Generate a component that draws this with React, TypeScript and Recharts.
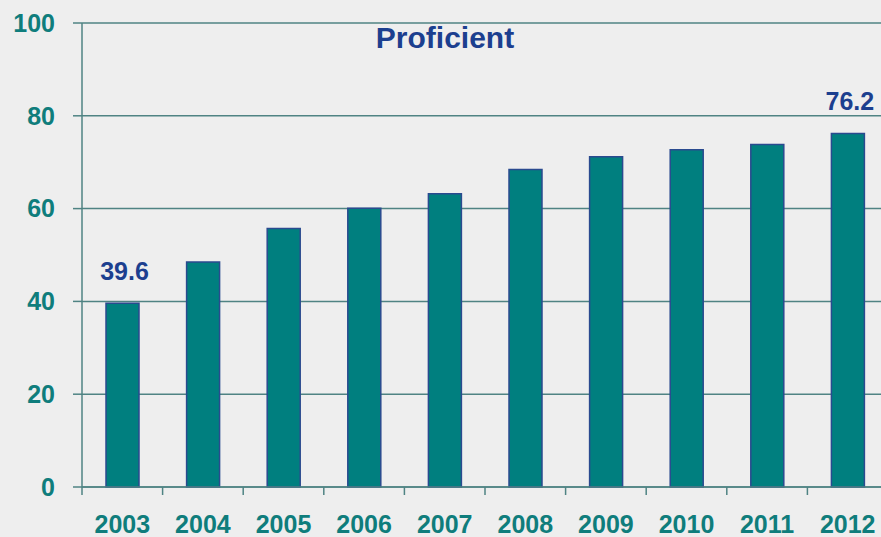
import { BarChart, Bar, XAxis, YAxis, CartesianGrid, LabelList } from "recharts";

const years = ["2003", "2004", "2005", "2006", "2007", "2008", "2009", "2010", "2011", "2012"];
const proficient = [39.6, 48.5, 55.7, 60.1, 63.2, 68.4, 71.2, 72.7, 73.8, 76.2];
const yTicks = [0, 20, 40, 60, 80, 100];
const labeledYears = ["2003", "2012"];

const data = years.map((year, i) => ({ year, value: proficient[i] }));

const FONT = "'Liberation Sans', Arial, sans-serif";
const TEAL = "#0f7d7c";
const BLUE = "#1c3f8f";
const GRID = "#4f8383";

function XTick(props: any) {
  const { x, y, payload } = props;
  const half = payload?.offset ?? 40.3;
  return (
    <g>
      <line x1={x - half} x2={x - half} y1={y} y2={y + 8} stroke={GRID} strokeWidth={1.5} />
      <text x={x} y={y + 46} textAnchor="middle" fill={TEAL} fontSize={25} fontWeight="bold" fontFamily={FONT}>
        {payload.value}
      </text>
    </g>
  );
}

function EndLabel(props: any) {
  const { x, y, width, value, index } = props;
  if (!labeledYears.includes(years[index])) return null;
  return (
    <text
      x={x + width / 2 + 2}
      y={y - 23}
      textAnchor="middle"
      fill={BLUE}
      fontSize={25}
      fontWeight="bold"
      fontFamily={FONT}
    >
      {value}
    </text>
  );
}

export default function App() {
  return (
    <div
      style={{
        position: "absolute",
        left: 0,
        top: 0,
        width: 881,
        height: 537,
        overflow: "hidden",
        background: "#eeeeee",
      }}
    >
      <div
        style={{
          position: "absolute",
          left: 445,
          top: 23,
          transform: "translateX(-50%)",
          fontFamily: FONT,
          fontWeight: "bold",
          fontSize: 30,
          lineHeight: "30px",
          color: BLUE,
          whiteSpace: "nowrap",
        }}
      >
        Proficient
      </div>
      <BarChart
        width={888}
        height={537}
        data={data}
        margin={{ top: 23, right: 0, left: 0, bottom: 0 }}
        barCategoryGap="29%"
      >
        <CartesianGrid vertical={false} stroke={GRID} strokeWidth={1.5} />
        <XAxis
          dataKey="year"
          height={50}
          tickSize={0}
          tickMargin={0}
          tickLine={false}
          axisLine={{ stroke: GRID, strokeWidth: 1.5 }}
          tick={<XTick />}
          interval={0}
        />
        <YAxis
          domain={[0, 100]}
          ticks={yTicks}
          width={82}
          tickSize={9}
          tickMargin={18}
          axisLine={{ stroke: GRID, strokeWidth: 1.5 }}
          tickLine={{ stroke: GRID, strokeWidth: 1.5 }}
          tick={{ fill: TEAL, fontSize: 25, fontWeight: "bold", fontFamily: FONT }}
        />
        <Bar dataKey="value" fill="#007f7f" stroke="#2a4a8f" strokeWidth={1.5} barSize={33} isAnimationActive={false}>
          <LabelList dataKey="value" content={<EndLabel />} />
        </Bar>
      </BarChart>
    </div>
  );
}
